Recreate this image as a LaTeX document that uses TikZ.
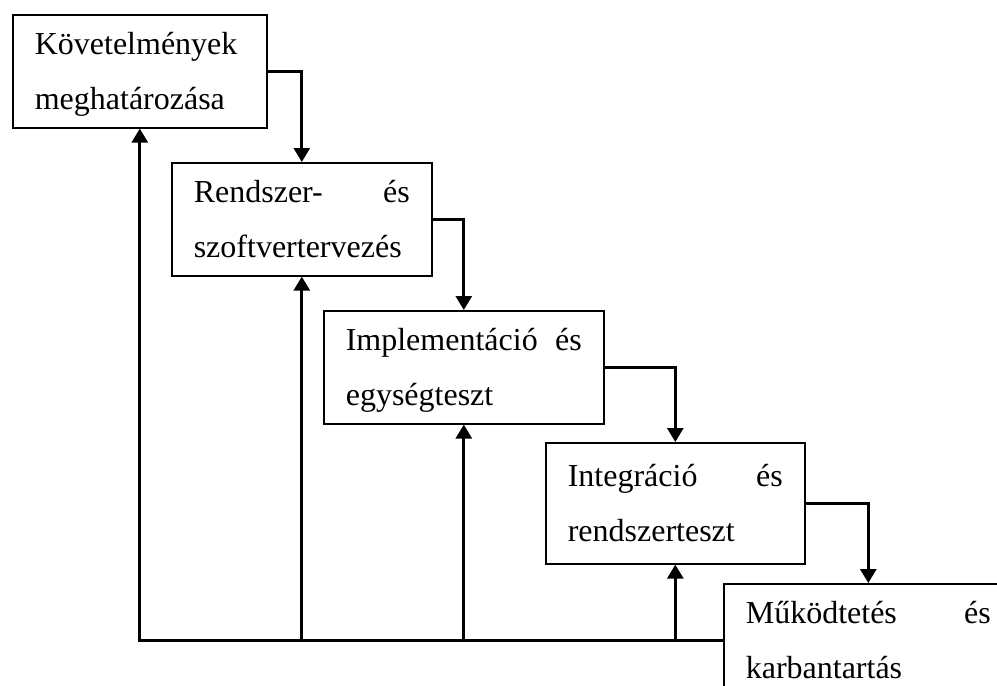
\documentclass[tikz,border=0pt]{standalone}
\usepackage{fontspec}
\setmainfont{Liberation Serif}
\usetikzlibrary{arrows.meta}

\begin{document}
\begin{tikzpicture}[x=0.5pt,y=-0.5pt,
    phase/.style={draw,line width=.8pt,anchor=north west,align=justify,
      inner xsep=11pt,inner ysep=.75pt,font=\fontsize{16}{27.5}\selectfont},
    flow/.style={line width=1.4pt,-{Triangle[width=8pt,length=7pt]}}]

  %%%% page frame %%%%
  \useasboundingbox (0,0) rectangle (997,686);
  \clip (0,0) rectangle (997,686);

  %% the phases
  \node[phase,text width=105pt]   (req)  at (12,14)   {\strut Követelmények\\meghatározása\strut};
  \node[phase,text width=108pt]   (des)  at (171,162) {\strut Rendszer-\hfill és\\szoftvertervezés\strut};
  \node[phase,text width=118pt]   (impl) at (323,310) {\strut Implementáció\hfill és\\egységteszt\strut};
  \node[phase,text width=107.5pt,minimum height=60.5pt]
                                  (intg) at (545,442) {\strut Integráció\hfill és\\rendszerteszt\strut};
  \node[phase,text width=122.5pt] (ops)  at (723,583) {\strut Működtetés\hfill és\\karbantartás\strut};

  %% forward steps
  \draw[flow] (req.east)  -| (des.north);
  \draw[flow] (des.east)  -| (impl.north);
  \draw[flow] (impl.east) -| (intg.north);
  \draw[flow] (intg.east) -| (ops.north);

  %% feedback to every earlier phase
  \draw[flow] (ops.west) -| (req.south);
  \foreach \p in {des,impl,intg}{
    \draw[flow] (ops.west -| \p.south) -- (\p.south);
  }

\end{tikzpicture}
\end{document}
